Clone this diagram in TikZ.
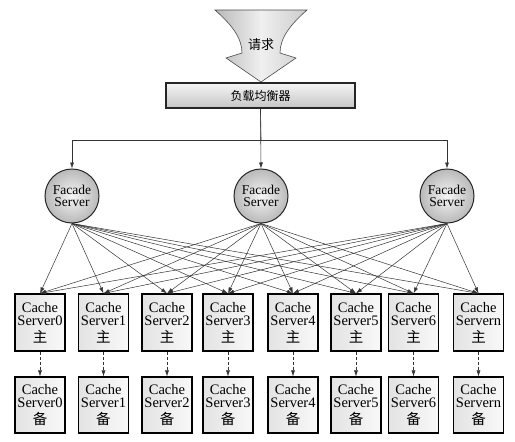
\documentclass[tikz,border=0pt]{standalone}
\usepackage{fontspec}
\setmainfont{Liberation Serif}
\newfontfamily\cjk{Noto Sans CJK SC}
\usetikzlibrary{arrows.meta,calc}
\begin{document}
\begin{tikzpicture}[x=1pt,y=-1pt,
  conn/.style={draw=black!80,line width=0.5pt,-{Latex[length=6pt,width=4pt]}},
  feed/.style={draw=black!80,line width=0.6pt},
  facade/.style={circle,draw=black!85,line width=1pt,minimum size=54pt,inner sep=0pt,
    inner color=gray!8,outer color=gray!55,align=center,font=\fontsize{13.5}{12}\selectfont},
  cachebox/.style={rectangle,draw=black,line width=1.2pt,minimum width=50pt,minimum height=57pt,
    inner sep=0pt,left color=gray!22,right color=gray!5,align=center,font=\fontsize{14.5}{13.5}\selectfont},
  balbox/.style={rectangle,draw=black!85,line width=1.2pt,minimum width=189pt,minimum height=25pt,
    inner sep=0pt,top color=gray!8,bottom color=gray!45,font=\fontsize{12}{14}\selectfont\cjk}
]
\useasboundingbox (0,0) rectangle (515,442);
% request arrow
\path[draw=black!70,line width=0.6pt,left color=gray!55,right color=gray!40,middle color=gray!12]
  (215,10) -- (307,10) .. controls (290,25) and (280,38) .. (280,53) -- (296,58) -- (261,82)
  -- (226,58) -- (242,53) .. controls (242,38) and (232,25) .. (215,10) -- cycle;
\node[font=\fontsize{13}{14}\selectfont\cjk] (req) at (261,45) {请求};
% balancer
\node[balbox] (bal) at (260.5,95.5) {负载均衡器};
% facades
\node[facade] (f1) at (72,196) {Facade\\Server};
\node[facade] (f2) at (261,196) {Facade\\Server};
\node[facade] (f3) at (447,196) {Facade\\Server};
\coordinate (j) at (261,140);
\draw[feed] (bal.south) -- (j);
\draw[conn,line width=0.6pt] (j) -| (f1.north);
\draw[conn,line width=0.6pt] (j) -| (f3.north);
\draw[conn,line width=0.6pt] (bal.south) -- (f2.north);
% cache servers
\foreach \x/\l [count=\i from 0] in {40/0,103.5/1,167/2,228/3,293/4,356/5,413.5/6,478.5/n} {
  \node[cachebox] (m\i) at (\x,322.5) {Cache\\Server\l\\[3pt]{\cjk 主}};
  \node[cachebox,minimum height=56pt] (s\i) at (\x,405) {Cache\\Server\l\\[3pt]{\cjk 备}};
}
\foreach \f in {f1,f2,f3} {
  \foreach \i in {0,...,7} {
    \draw[conn] (\f.south) -- (m\i.north);
  }
}
\foreach \i in {0,...,7} {
  \draw[conn,dash pattern=on 3pt off 2pt] (m\i.south) -- (s\i.north);
}
\end{tikzpicture}
\end{document}
